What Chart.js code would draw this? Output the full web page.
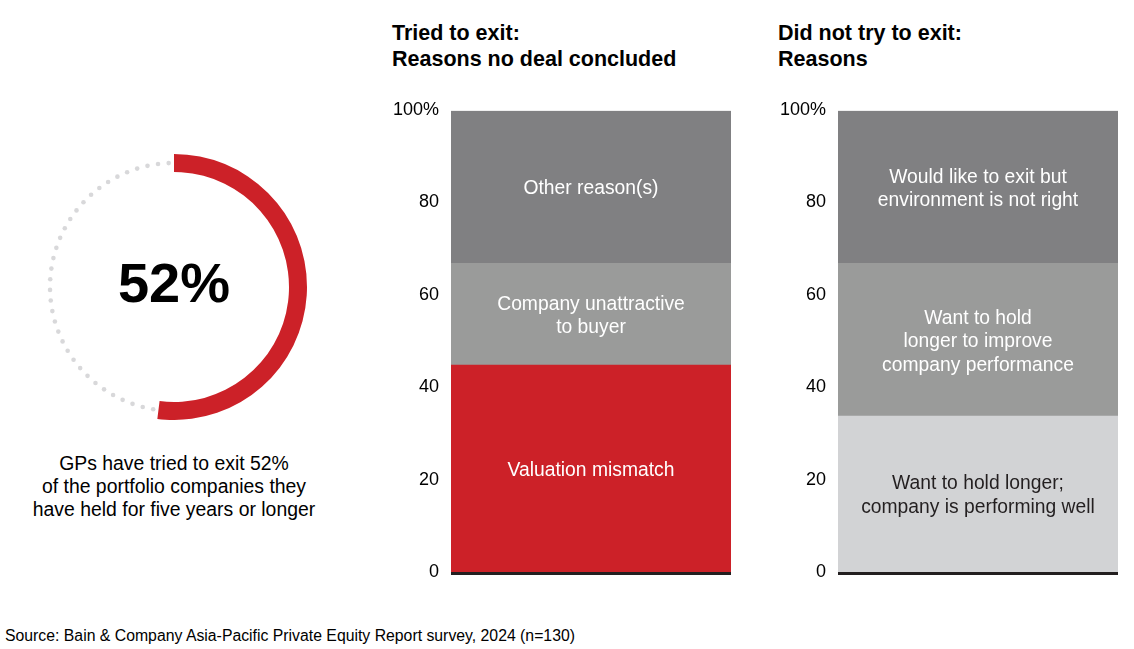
<!DOCTYPE html>
<html>
<head>
<meta charset="utf-8">
<script src="https://cdn.jsdelivr.net/npm/chart.js@4"></script>
<style>
  body { margin: 0; width: 1134px; height: 649px; background: #fff; position: relative; overflow: hidden;
         font-family: "Liberation Sans", Arial, sans-serif; color: #000; }
  canvas { position: absolute; }
  .title { position: absolute; font-weight: bold; font-size: 21.5px; line-height: 26px; }
  .caption { position: absolute; left: 24px; top: 452px; width: 300px; text-align: center; font-size: 19.4px; line-height: 23px; }
  .source { position: absolute; left: 5px; top: 627px; font-size: 15.8px; }
</style>
</head>
<body>
<div class="title" style="left:392px; top:20px;">Tried to exit:<br>Reasons no deal concluded</div>
<div class="title" style="left:778px; top:20px;">Did not try to exit:<br>Reasons</div>
<div class="caption">GPs have tried to exit 52%<br>of the portfolio companies they<br>have held for five years or longer</div>
<div class="source">Source: Bain &amp; Company Asia-Pacific Private Equity Report survey, 2024 (n=130)</div>

<canvas id="ring" width="266" height="266" style="left:41px; top:154px;"></canvas>
<canvas id="tried" width="351" height="508" style="left:380px; top:88px;"></canvas>
<canvas id="notTried" width="348" height="508" style="left:770px; top:88px;"></canvas>

<script>
const exitShare = [52, 48];

const triedLabels = [["Valuation mismatch"], ["Company unattractive", "to buyer"], ["Other reason(s)"]];
const triedValues = [45, 22, 33];

const notTriedLabels = [
  ["Want to hold longer;", "company is performing well"],
  ["Want to hold", "longer to improve", "company performance"],
  ["Would like to exit but", "environment is not right"]
];
const notTriedValues = [34, 33, 33];

const yTicks = [0, 20, 40, 60, 80, 100];

const font = '"Liberation Sans", Arial, sans-serif';

// doughnut: red arc + dotted remainder + big number
new Chart(document.getElementById("ring"), {
  type: "doughnut",
  data: {
    labels: ["Tried to exit", "Did not try"],
    datasets: [{
      data: exitShare,
      backgroundColor: ["#cc2128", "rgba(0,0,0,0)"],
      borderWidth: 0
    }]
  },
  options: {
    responsive: false,
    animation: false,
    devicePixelRatio: 1,
    cutout: 115,
    plugins: { legend: { display: false }, tooltip: { enabled: false } }
  },
  plugins: [{
    id: "dots",
    afterDatasetsDraw(chart) {
      const ctx = chart.ctx;
      const arc = chart.getDatasetMeta(0).data[1];
      const r = (arc.innerRadius + arc.outerRadius) / 2;
      const span = arc.endAngle - arc.startAngle;
      const n = Math.round(span * r / 10.7);
      const step = span / n;
      ctx.save();
      ctx.fillStyle = "#d8d8da";
      for (let i = 0; i < n; i++) {
        const a = arc.startAngle + step * (i + 0.5);
        ctx.beginPath();
        ctx.arc(arc.x + r * Math.cos(a), arc.y + r * Math.sin(a), 2.3, 0, Math.PI * 2);
        ctx.fill();
      }
      ctx.fillStyle = "#000";
      ctx.font = "bold 56px " + font;
      ctx.textAlign = "center";
      ctx.textBaseline = "middle";
      ctx.fillText(exitShare[0] + "%", arc.x, arc.y);
      ctx.restore();
    }
  }]
});

const segmentLabels = {
  id: "segmentLabels",
  afterDatasetsDraw(chart, args, opts) {
    const ctx = chart.ctx;
    ctx.save();
    ctx.font = "19.3px " + font;
    ctx.textAlign = "center";
    ctx.textBaseline = "middle";
    chart.data.datasets.forEach((ds, i) => {
      const bar = chart.getDatasetMeta(i).data[0];
      const lines = opts.labels[i];
      const cy = (bar.y + bar.base) / 2 + 2;
      const lh = 23.5;
      ctx.fillStyle = opts.colors[i];
      lines.forEach((t, j) => {
        ctx.fillText(t, bar.x, cy + (j - (lines.length - 1) / 2) * lh);
      });
    });
    ctx.restore();
  }
};

function stackedBar(id, values, labels, colors, textColors, axisWidth) {
  return new Chart(document.getElementById(id), {
    type: "bar",
    data: {
      labels: [""],
      datasets: values.map((v, i) => ({
        label: labels[i].join(" "),
        data: [v],
        backgroundColor: colors[i],
        borderWidth: 0,
        barPercentage: 1,
        categoryPercentage: 1
      }))
    },
    options: {
      responsive: false,
      animation: false,
      devicePixelRatio: 1,
      layout: { padding: 0 },
      scales: {
        x: { stacked: true, display: false },
        y: {
          stacked: true,
          min: 0,
          max: 100,
          z: 1,
          afterFit(scale) { scale.width = axisWidth; },
          afterBuildTicks(scale) { scale.ticks = yTicks.map(v => ({ value: v })); },
          ticks: {
            padding: 12,
            labelOffset: -1,
            color: "#000",
            font: { family: font, size: 18 },
            callback: v => (v === 100 ? "100%" : v)
          },
          grid: {
            drawTicks: false,
            lineWidth: 3,
            color: c => (c.tick && c.tick.value === 0 ? "#231f20" : "rgba(0,0,0,0)")
          },
          border: { display: false }
        }
      },
      plugins: {
        legend: { display: false },
        tooltip: { enabled: false },
        segmentLabels: { labels: labels, colors: textColors }
      }
    },
    plugins: [segmentLabels]
  });
}

stackedBar("tried", triedValues, triedLabels,
  ["#cc2128", "#9a9b9a", "#808082"], ["#fff", "#fff", "#fff"], 71);
stackedBar("notTried", notTriedValues, notTriedLabels,
  ["#d2d3d5", "#9a9b9a", "#808082"], ["#231f20", "#fff", "#fff"], 68);
</script>
</body>
</html>
